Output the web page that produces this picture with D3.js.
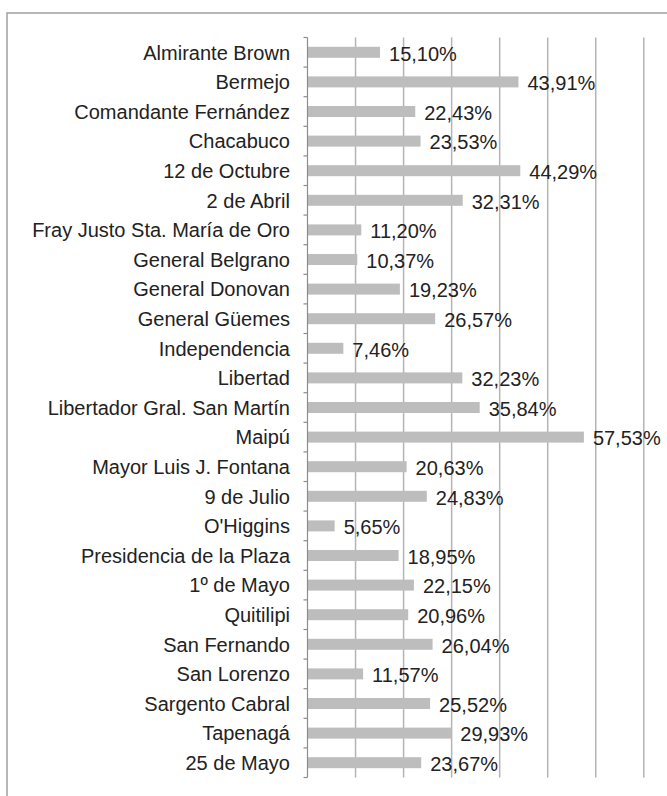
<!DOCTYPE html>
<html>
<head>
<meta charset="utf-8">
<script src="https://cdn.jsdelivr.net/npm/d3@7"></script>
<style>
  html, body { margin: 0; padding: 0; background: #fff; }
  svg { display: block; }
  text { font-family: "Liberation Sans", Arial, sans-serif; fill: #222; }
</style>
</head>
<body>
<svg id="chart" width="667" height="796"></svg>
<script>
// Departamentos y porcentajes
const departamentos = [
  "Almirante Brown", "Bermejo", "Comandante Fernández", "Chacabuco",
  "12 de Octubre", "2 de Abril", "Fray Justo Sta. María de Oro",
  "General Belgrano", "General Donovan", "General Güemes", "Independencia",
  "Libertad", "Libertador Gral. San Martín", "Maipú", "Mayor Luis J. Fontana",
  "9 de Julio", "O'Higgins", "Presidencia de la Plaza", "1º de Mayo",
  "Quitilipi", "San Fernando", "San Lorenzo", "Sargento Cabral", "Tapenagá",
  "25 de Mayo"
];
const porcentajes = [
  15.10, 43.91, 22.43, 23.53, 44.29, 32.31, 11.20, 10.37, 19.23, 26.57,
  7.46, 32.23, 35.84, 57.53, 20.63, 24.83, 5.65, 18.95, 22.15, 20.96,
  26.04, 11.57, 25.52, 29.93, 23.67
];
const gridTicks = [0, 10, 20, 30, 40, 50, 60, 70];

const data = departamentos.map((d, i) => ({ name: d, value: porcentajes[i] }));
const svg = d3.select("#chart");

// Marco exterior
svg.append("rect")
  .attr("x", 7).attr("y", 13)
  .attr("width", 680).attr("height", 800)
  .attr("fill", "none").attr("stroke", "#a0a0a0").attr("stroke-width", 1.5);

const plotLeft = 307.5, plotTop = 37.5, plotBottom = 777.5;
const x = d3.scaleLinear().domain([0, 70]).range([plotLeft, plotLeft + 336.3]);
const yRows = d3.scaleBand().domain(departamentos).range([plotTop, plotBottom]);

// Líneas de división verticales
svg.append("g").selectAll("line")
  .data(gridTicks.slice(1))
  .join("line")
  .attr("x1", d => x(d)).attr("x2", d => x(d))
  .attr("y1", plotTop).attr("y2", plotBottom)
  .attr("stroke", "#b4b4b4").attr("stroke-width", 1.5);

// Barras
svg.append("g").selectAll("rect")
  .data(data)
  .join("rect")
  .attr("x", x(0))
  .attr("y", d => yRows(d.name) + yRows.bandwidth() / 2 - 5.5)
  .attr("width", d => x(d.value) - x(0))
  .attr("height", 11)
  .attr("fill", "#bdbdbd");

// Eje de categorías
const axis = svg.append("g").attr("transform", `translate(${plotLeft},0)`);
axis.append("line")
  .attr("x1", 0).attr("x2", 0).attr("y1", plotTop).attr("y2", plotBottom)
  .attr("stroke", "#8c8c8c").attr("stroke-width", 1.2);
const bounds = departamentos.map(d => yRows(d)).concat([plotBottom]);
axis.selectAll("line.tick")
  .data(bounds)
  .join("line").attr("class", "tick")
  .attr("x1", -4).attr("x2", 0)
  .attr("y1", d => d).attr("y2", d => d)
  .attr("stroke", "#8c8c8c").attr("stroke-width", 1.2);

// Nombres de departamentos
svg.append("g").selectAll("text")
  .data(data)
  .join("text")
  .attr("x", 290)
  .attr("y", d => yRows(d.name) + yRows.bandwidth() / 2)
  .attr("dy", "0.36em")
  .attr("text-anchor", "end")
  .attr("font-size", 20)
  .text(d => d.name);

// Etiquetas de valor
const fmt = v => v.toFixed(2).replace(".", ",") + "%";
svg.append("g").selectAll("text")
  .data(data)
  .join("text")
  .attr("x", d => x(d.value) + 9)
  .attr("y", d => yRows(d.name) + yRows.bandwidth() / 2 + 1)
  .attr("dy", "0.36em")
  .attr("font-size", 20)
  .text(d => fmt(d.value));
</script>
</body>
</html>
